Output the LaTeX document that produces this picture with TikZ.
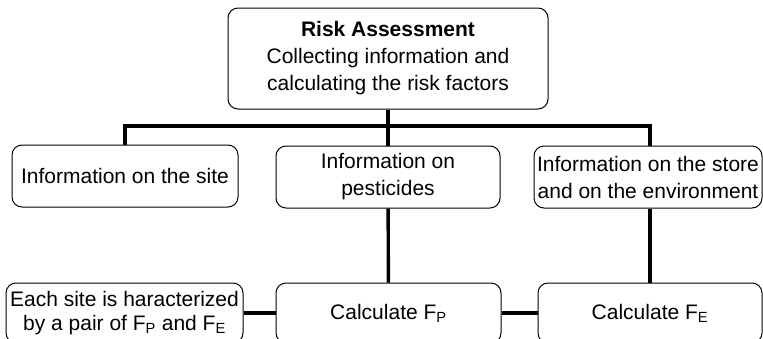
\documentclass[tikz,border=0pt]{standalone}
\usepackage{fontspec}
\setmainfont{Liberation Sans}
\usetikzlibrary{positioning}

\begin{document}
\begin{tikzpicture}[line cap=round,line join=round,x=1pt,y=-1pt,
  box/.style={draw=black,line width=1pt,rounded corners=10pt,align=center,inner sep=0pt,
    font=\fontsize{21}{27}\selectfont},
  conn/.style={line width=3.4pt,line cap=butt,line join=miter}]
\useasboundingbox (0,0) rectangle (763,338);
\clip (0,0) rectangle (763,338);
% top
\node[box,minimum width=320pt,minimum height=101pt] (risk) at (388,58.5) {\textbf{Risk Assessment}\\Collecting information and\\calculating the risk factors};
% middle row
\node[box,minimum width=226pt,minimum height=62pt] (site) at (125,176) {Information on the site};
\node[box,minimum width=224pt,minimum height=62pt] (pest) at (388,177) {Information on\\pesticides};
\node[box,minimum width=228pt,minimum height=62pt] (store) at (648,177) {Information on the store\\and on the environment};
% bottom row
\node[box,minimum width=237pt,minimum height=60pt,font=\fontsize{21}{24}\selectfont] (pair) at (124.5,313) {Each site is haracterized\\by a pair of F\textsubscript{P} and F\textsubscript{E}};
\node[box,minimum width=225pt,minimum height=60pt] (calcP) at (388.5,313) {Calculate F\textsubscript{P}};
\node[box,minimum width=224pt,minimum height=60pt] (calcE) at (650,313) {Calculate F\textsubscript{E}};
\coordinate (bar) at (388,126);
% connectors
\draw[conn] (risk) -- (pest);
\draw[conn] (site.north) |- (bar) -| (store.north -| calcE.north);
\draw[conn] (pest) -- (calcP);
\draw[conn] (store.south -| calcE.north) -- (calcE);
\draw[conn] (pair) -- (calcP);
\draw[conn] (calcP) -- (calcE);
\end{tikzpicture}
\end{document}
